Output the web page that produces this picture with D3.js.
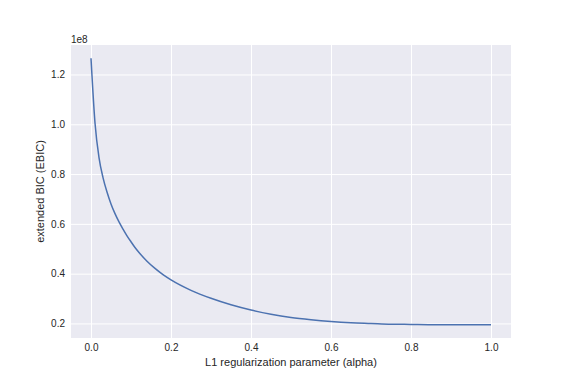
<!DOCTYPE html>
<html><head><meta charset="utf-8">
<script src="https://cdn.jsdelivr.net/npm/d3@7"></script>
<style>body{margin:0;background:#fff;} text{font-family:"Liberation Sans",Arial,sans-serif;}</style>
</head><body>
<svg id="c" width="567" height="380"></svg>
<script>
const alphas = [0,0.01,0.02,0.03,0.04,0.05,0.06,0.07,0.08,0.09,0.10,0.11,0.12,0.14,0.16,0.18,0.20,0.25,0.30,0.35,0.40,0.45,0.50,0.55,0.60,0.65,0.70,0.75,0.80,0.85,0.90,0.95,1.00];
const ebic = [1.265,1.005,0.866,0.786,0.728,0.680,0.641,0.608,0.579,0.552,0.528,0.505,0.485,0.450,0.421,0.396,0.375,0.333,0.301,0.275,0.254,0.237,0.224,0.215,0.208,0.203,0.200,0.197,0.196,0.195,0.195,0.195,0.195].map(v=>v*1e8);
const xTicks = [0,0.2,0.4,0.6,0.8,1.0];
const yTicks = [0.2e8,0.4e8,0.6e8,0.8e8,1.0e8,1.2e8];

const L=71,R=511,T=45,B=338;
const svg=d3.select("#c");
const x=d3.scaleLinear().domain([-0.05,1.05]).range([L,R]);
const y=d3.scaleLinear().domain([0.1415e8,1.3185e8]).range([B,T]);
svg.append("rect").attr("x",L).attr("y",T).attr("width",R-L).attr("height",B-T).attr("fill","#EAEAF2");
const gx=svg.append("g").attr("transform",`translate(0,${B})`)
  .call(d3.axisBottom(x).tickValues(xTicks).tickFormat(d3.format(".1f")).tickSize(-(B-T)).tickPadding(6));
const gy=svg.append("g").attr("transform",`translate(${L},0)`)
  .call(d3.axisLeft(y).tickValues(yTicks).tickFormat(d=>(d/1e8).toFixed(1)).tickSize(-(R-L)).tickPadding(6));
[gx,gy].forEach(g=>{
  g.select(".domain").remove();
  g.selectAll(".tick line").attr("stroke","#fff").attr("stroke-width",1);
  g.selectAll(".tick text").attr("fill","#262626").style("font-size","10px");
});
svg.append("path").datum(alphas.map((a,i)=>[a,ebic[i]]))
  .attr("fill","none").attr("stroke","#4C72B0").attr("stroke-width",1.5)
  .attr("d",d3.line().x(d=>x(d[0])).y(d=>y(d[1])).curve(d3.curveMonotoneX));
svg.append("text").attr("x",71).attr("y",43).attr("fill","#262626").style("font-size","10px").text("1e8");
svg.append("text").attr("x",(L+R)/2).attr("y",366).attr("text-anchor","middle").attr("fill","#262626").style("font-size","11px").text("L1 regularization parameter (alpha)");
svg.append("text").attr("transform",`translate(44,${(T+B)/2}) rotate(-90)`).attr("text-anchor","middle").attr("fill","#262626").style("font-size","11px").text("extended BIC (EBIC)");
</script>
</body></html>
